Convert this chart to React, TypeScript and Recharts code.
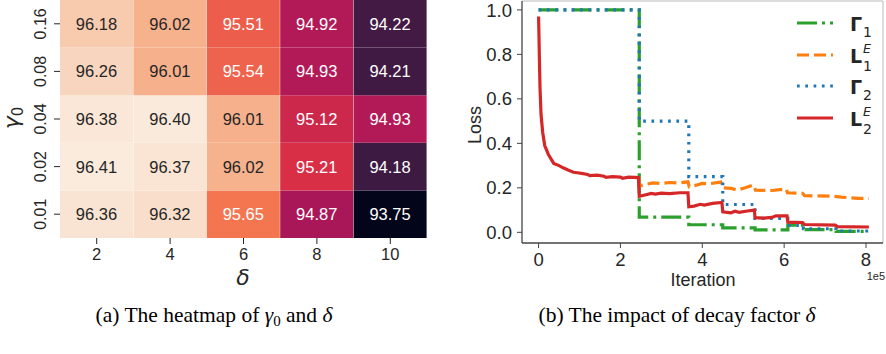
import React from 'react';
import { BarChart, Bar, Cell, XAxis, YAxis, LabelList, LineChart, Line, ReferenceLine } from 'recharts';

const SANS = '"Liberation Sans", Arial, sans-serif';
const MATH = '"DejaVu Sans", sans-serif';
const SERIF = '"Liberation Serif", "Times New Roman", serif';
const INK = '#262626';

// ---- heatmap: accuracy for gamma0 (rows, bottom -> top) x delta (columns)
const deltaLabels = ['2', '4', '6', '8', '10'];
const gammaLabels = ['0.01', '0.02', '0.04', '0.08', '0.16'];
const accGamma001 = [96.36, 96.32, 95.65, 94.87, 93.75];
const accGamma002 = [96.41, 96.37, 96.02, 95.21, 94.18];
const accGamma004 = [96.38, 96.4, 96.01, 95.12, 94.93];
const accGamma008 = [96.26, 96.01, 95.54, 94.93, 94.21];
const accGamma016 = [96.18, 96.02, 95.51, 94.92, 94.22];
const accRows = [accGamma001, accGamma002, accGamma004, accGamma008, accGamma016];

// ---- loss curves (iteration in units of 1e5)
const g1Iter = [0, 2.46, 3.67, 4.5, 5.29, 6.09, 6.47, 7.27, 8.07];
const g1Loss = [1.0, 0.068, 0.034, 0.02, 0.011, 0.032, 0.012, 0.004, 0.004];

const l1Iter = [2.45, 2.46, 2.6, 2.8, 3.0, 3.2, 3.4, 3.65, 3.68, 3.85, 4.0, 4.15, 4.45, 4.5, 4.7, 4.85, 5.05, 5.25, 5.3, 5.7, 6.05, 6.08, 6.45, 6.5, 7.2, 7.4, 7.8, 8.07];
const l1Loss = [0.246, 0.208, 0.215, 0.222, 0.22, 0.224, 0.222, 0.227, 0.205, 0.212, 0.22, 0.218, 0.226, 0.2, 0.198, 0.19, 0.2, 0.213, 0.19, 0.188, 0.195, 0.178, 0.175, 0.165, 0.162, 0.158, 0.153, 0.152];

const g2Iter = [0, 2.46, 3.67, 4.5, 5.29, 6.09, 6.47, 7.27, 8.07];
const g2Loss = [1.0, 0.5, 0.25, 0.125, 0.0625, 0.031, 0.016, 0.006, 0.006];

const l2Iter = [0, 0.01, 0.02, 0.035, 0.06, 0.1, 0.15, 0.24, 0.37, 0.5, 0.6, 0.72, 0.85, 0.95, 1.05, 1.2, 1.25, 1.43, 1.6, 1.65, 1.8, 2.0, 2.05, 2.2, 2.44,
  2.46, 2.6, 2.75, 2.85, 3.0, 3.2, 3.45, 3.65, 3.67, 3.8, 3.95, 4.05, 4.25, 4.48, 4.5, 4.7, 4.8, 4.9, 5.1, 5.27,
  5.29, 5.5, 5.7, 5.8, 6.07, 6.09, 6.45, 6.5, 7.25, 7.3, 8.07];
const l2Loss = [0.97, 0.88, 0.78, 0.65, 0.53, 0.45, 0.39, 0.35, 0.31, 0.3, 0.29, 0.28, 0.27, 0.268, 0.265, 0.26, 0.255, 0.257, 0.252, 0.247, 0.25, 0.248, 0.243, 0.248, 0.246,
  0.162, 0.168, 0.175, 0.172, 0.176, 0.174, 0.178, 0.178, 0.115, 0.118, 0.126, 0.122, 0.13, 0.134, 0.092, 0.088, 0.095, 0.09, 0.096, 0.1,
  0.066, 0.064, 0.067, 0.074, 0.074, 0.046, 0.044, 0.035, 0.032, 0.026, 0.024];

const yTicks = [0, 0.2, 0.4, 0.6, 0.8, 1.0];
const xTicks = [0, 2, 4, 6, 8];

// seaborn "rocket" colormap, sampled
const ROCKET = ['#03051a', '#35193e', '#701f57', '#ad1759', '#e13342', '#f37651', '#f6b48f', '#faebdd'];
const hexRgb = (h: string) => [1, 3, 5].map((i) => parseInt(h.slice(i, i + 2), 16));
const allAcc = accRows.flat();
const vMin = Math.min(...allAcc);
const vMax = Math.max(...allAcc);

function rocketRgb(v: number) {
  const t = Math.max(0, Math.min(1, (v - vMin) / (vMax - vMin)));
  const p = t * (ROCKET.length - 1);
  const i = Math.min(Math.floor(p), ROCKET.length - 2);
  const f = p - i;
  const a = hexRgb(ROCKET[i]);
  const b = hexRgb(ROCKET[i + 1]);
  return a.map((c, k) => Math.round(c + (b[k] - c) * f));
}
const rgbStr = (c: number[]) => `rgb(${c[0]},${c[1]},${c[2]})`;
function textColor(v: number) {
  const lin = rocketRgb(v).map((c) => {
    const s = c / 255;
    return s <= 0.03928 ? s / 12.92 : Math.pow((s + 0.055) / 1.055, 2.4);
  });
  const lum = 0.2126 * lin[0] + 0.7152 * lin[1] + 0.0722 * lin[2];
  return lum > 0.408 ? INK : '#ffffff';
}

const heatData = deltaLabels.map((d, i) => {
  const row: any = { delta: d };
  gammaLabels.forEach((_, j) => {
    row['c' + j] = 1;
    row['a' + j] = accRows[j][i];
  });
  return row;
});

const toPoints = (iter: number[], loss: number[]) => iter.map((it, i) => ({ x: it * 1e5, y: loss[i] }));

const series = [
  { key: 'g1', color: '#2ca02c', dash: '20 5 3 5', type: 'stepAfter', data: toPoints(g1Iter, g1Loss), main: 'Γ', sup: '', sub: '1' },
  { key: 'l1', color: '#ff7f0e', dash: '12 5', type: 'linear', data: toPoints(l1Iter, l1Loss), main: 'L', sup: 'E', sub: '1' },
  { key: 'g2', color: '#1f77b4', dash: '2.7 5.6', type: 'stepAfter', data: toPoints(g2Iter, g2Loss), main: 'Γ', sup: '', sub: '2' },
  { key: 'l2', color: '#d62728', dash: undefined, type: 'linear', data: toPoints(l2Iter, l2Loss), main: 'L', sup: 'E', sub: '2' },
];

const X_MIN = -40500;
const X_MAX = 841500;
const Y_MIN = -0.048;
const Y_MAX = 1.04;

const GammaTick = (props: any) => {
  const { x, y, payload } = props;
  const label = gammaLabels[Math.floor(payload.value)];
  return (
    <text x={x} y={y} transform={`rotate(-90 ${x} ${y})`} textAnchor="middle" fontSize={16} fontFamily={SANS} fill={INK}>
      {label}
    </text>
  );
};

const CellLabel = (props: any) => {
  const { x, y, width, height, value } = props;
  return (
    <text x={Number(x) + Number(width) / 2} y={Number(y) + Number(height) / 2} dy="0.36em" textAnchor="middle"
      fontSize={16.5} fontFamily={SANS} fill={textColor(value)}>
      {Number(value).toFixed(2)}
    </text>
  );
};

const legendRows = [23, 55, 86, 118];

export default function App() {
  return (
    <div style={{ position: 'absolute', left: 0, top: 0, width: 886, height: 354, background: '#fff' }}>
      <div style={{ position: 'absolute', left: 0, top: 0 }}>
        <BarChart width={440} height={290} data={heatData} margin={{ top: 0, right: 13, left: 0, bottom: 0 }}
          barCategoryGap={0} barGap={0}>
          <XAxis dataKey="delta" height={52} axisLine={false} tickSize={6} tickMargin={4}
            tickLine={{ stroke: INK }} tick={{ fontSize: 16.5, fontFamily: SANS, fill: INK }} />
          <YAxis type="number" domain={[0, 5]} ticks={[0.5, 1.5, 2.5, 3.5, 4.5]} width={60} axisLine={false}
            tickSize={6} tickMargin={8} tickLine={{ stroke: INK }} tick={<GammaTick />} />
          {gammaLabels.map((g, j) => (
            <Bar key={g} dataKey={'c' + j} stackId="heat" isAnimationActive={false}>
              {heatData.map((row, i) => (
                <Cell key={i} fill={rgbStr(rocketRgb(row['a' + j]))} />
              ))}
              <LabelList dataKey={'a' + j} content={<CellLabel />} />
            </Bar>
          ))}
        </BarChart>
      </div>

      <div style={{ position: 'absolute', left: 440, top: 0 }}>
        <LineChart width={446} height={290} margin={{ top: 1, right: 3, left: 0, bottom: 0 }}>
          <XAxis type="number" dataKey="x" domain={[X_MIN, X_MAX]} allowDataOverflow ticks={xTicks.map((t) => t * 1e5)}
            tickFormatter={(v: number) => String(v / 1e5)} height={47} tickSize={5} tickMargin={5}
            axisLine={{ stroke: '#444', strokeWidth: 1.3 }} tickLine={{ stroke: '#444' }}
            tick={{ fontSize: 18.5, fontFamily: SANS, fill: INK }} />
          <YAxis type="number" dataKey="y" domain={[Y_MIN, Y_MAX]} allowDataOverflow ticks={yTicks}
            tickFormatter={(v: number) => v.toFixed(1)} width={82} tickSize={5} tickMargin={5}
            axisLine={{ stroke: '#444', strokeWidth: 1.3 }} tickLine={{ stroke: '#444' }}
            tick={{ fontSize: 18.5, fontFamily: SANS, fill: INK }} />
          <ReferenceLine y={Y_MAX} stroke="#bbbbbb" ifOverflow="visible" />
          <ReferenceLine x={X_MAX} stroke="#bbbbbb" ifOverflow="visible" />
          {series.map((s) => (
            <Line key={s.key} data={s.data} dataKey="y" type={s.type as any} stroke={s.color} strokeWidth={3.2}
              strokeDasharray={s.dash} dot={false} activeDot={false} isAnimationActive={false} />
          ))}
        </LineChart>
      </div>

      <svg width={886} height={354} style={{ position: 'absolute', left: 0, top: 0, pointerEvents: 'none' }}>
        {/* heatmap axis titles */}
        <text x={19} y={118} transform="rotate(-90 19 118)" textAnchor="middle" fontFamily={MATH} fontSize={22} fill={INK}>
          <tspan fontStyle="italic">γ</tspan>
          <tspan fontSize={15} dy={4}>0</tspan>
        </text>
        <text x={243} y={285} textAnchor="middle" fontFamily={MATH} fontStyle="italic" fontSize={22} fill={INK}>δ</text>

        {/* loss axis titles */}
        <text x={481} y={125} transform="rotate(-90 481 125)" textAnchor="middle" fontFamily={SANS} fontSize={18} fill={INK}>Loss</text>
        <text x={703} y={286} textAnchor="middle" fontFamily={SANS} fontSize={18} fill={INK}>Iteration</text>
        <text x={885} y={280} textAnchor="end" fontFamily={SANS} fontSize={11} fill={INK}>1e5</text>

        {/* legend */}
        {series.map((s, i) => {
          const ry = legendRows[i];
          return (
            <g key={s.key}>
              <line x1={797} x2={833} y1={ry} y2={ry} stroke={s.color} strokeWidth={3} strokeDasharray={s.dash} />
              <text x={850} y={ry + 8} fontFamily={MATH} fill={INK}>
                <tspan fontWeight="bold" fontSize={19}>{s.main}</tspan>
                {s.sup ? (
                  <>
                    <tspan dx={1} dy={-10} fontStyle="italic" fontSize={12.5}>{s.sup}</tspan>
                    <tspan dx={-8} dy={18} fontSize={14}>{s.sub}</tspan>
                  </>
                ) : (
                  <tspan dx={1} dy={6} fontSize={14}>{s.sub}</tspan>
                )}
              </text>
            </g>
          );
        })}

        {/* captions */}
        <text x={214} y={322} textAnchor="middle" fontFamily={SERIF} fontSize={21.5} fill="#000">
          (a) The heatmap of <tspan fontStyle="italic">γ</tspan><tspan fontSize={15} dy={4}>0</tspan><tspan dy={-4}> and </tspan><tspan fontStyle="italic">δ</tspan>
        </text>
        <text x={677} y={322} textAnchor="middle" fontFamily={SERIF} fontSize={21.5} fill="#000">
          (b) The impact of decay factor <tspan fontStyle="italic">δ</tspan>
        </text>
      </svg>
    </div>
  );
}
